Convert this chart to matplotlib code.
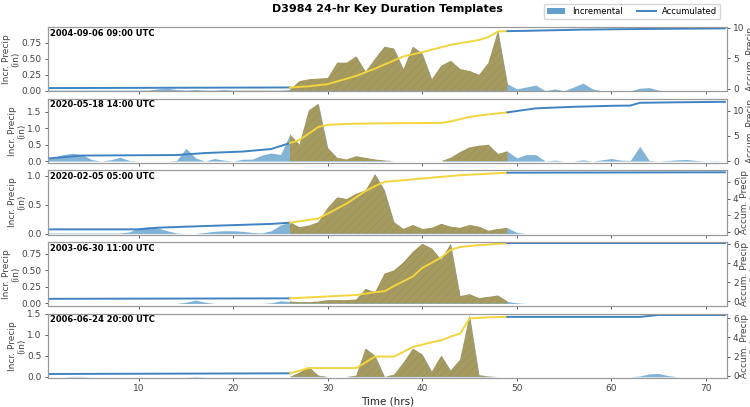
import matplotlib
matplotlib.use("Agg")
import matplotlib.pyplot as plt
import numpy as np
from matplotlib.patches import Patch
from matplotlib.lines import Line2D

# hourly time axis and the 24-hr key window
hours = np.arange(0, 73)
win_start, win_end = 26, 49

dates = ["2004-09-06 09:00 UTC", "2020-05-18 14:00 UTC", "2020-02-05 05:00 UTC",
         "2003-06-30 11:00 UTC", "2006-06-24 20:00 UTC"]

# incremental precip (in), hours 0..72
incr_p1 = [0.01, 0.01, 0.01, 0.01, 0.01, 0.01, 0.01, 0.01, 0.01, 0.01, 0.01, 0.01,
           0.03, 0.04, 0.02, 0.01, 0.02, 0.01, 0.01, 0.02, 0.01, 0.01, 0.01, 0.01, 0.01, 0.01,
           0.02, 0.15, 0.18, 0.19, 0.20, 0.44, 0.44, 0.54, 0.30, 0.50, 0.69, 0.66,
           0.34, 0.69, 0.58, 0.18, 0.39, 0.47, 0.34, 0.31, 0.25, 0.44, 0.94, 0.11,
           0.03, 0.06, 0.09, 0.0, 0.03, 0.0, 0.06, 0.12, 0.03, 0.0, 0.0, 0.0,
           0.0, 0.04, 0.05, 0.01, 0.0, 0.0, 0.0, 0.0, 0.0, 0.0, 0.0]
incr_p2 = [0.02, 0.12, 0.20, 0.24, 0.20, 0.05, 0.0, 0.04, 0.12, 0.02, 0.0, 0.0, 0.0,
           0.0, 0.02, 0.39, 0.10, 0.0, 0.08, 0.03, 0.0, 0.06, 0.06, 0.18, 0.25, 0.20,
           0.82, 0.50, 1.55, 1.75, 0.40, 0.10, 0.05, 0.15, 0.10, 0.05, 0.02, 0.0,
           0.0, 0.0, 0.0, 0.0, 0.0, 0.10, 0.28, 0.42, 0.47, 0.50, 0.22, 0.30,
           0.10, 0.20, 0.20, 0.0, 0.03, 0.0, 0.0, 0.04, 0.0, 0.04, 0.08, 0.03,
           0.02, 0.45, 0.02, 0.0, 0.02, 0.04, 0.05, 0.02, 0.0, 0.01, 0.0]
incr_p3 = [0.01, 0.01, 0.01, 0.01, 0.01, 0.01, 0.01, 0.01, 0.01,
           0.03, 0.10, 0.12, 0.10, 0.05, 0.01, 0.0, 0.0, 0.02, 0.04, 0.05, 0.05,
           0.04, 0.02, 0.01, 0.05, 0.15,
           0.20, 0.11, 0.14, 0.20, 0.45, 0.63, 0.60, 0.69, 0.75, 1.03, 0.75, 0.20,
           0.08, 0.15, 0.08, 0.10, 0.17, 0.12, 0.10, 0.15, 0.12, 0.05, 0.08, 0.10,
           0.02, 0.0, 0.0, 0.0, 0.0, 0.0, 0.0, 0.0, 0.0, 0.0, 0.0, 0.0,
           0.0, 0.0, 0.0, 0.0, 0.0, 0.0, 0.0, 0.0, 0.0, 0.0, 0.0]
incr_p4 = [0.0, 0.0, 0.0, 0.0, 0.0, 0.0, 0.0, 0.0, 0.0, 0.0, 0.0, 0.0, 0.0, 0.0, 0.0,
           0.02, 0.05, 0.02, 0.0, 0.0, 0.0, 0.0, 0.0, 0.0, 0.01, 0.04,
           0.03, 0.02, 0.02, 0.03, 0.05, 0.05, 0.05, 0.06, 0.22, 0.17, 0.45, 0.50,
           0.62, 0.78, 0.90, 0.83, 0.66, 0.90, 0.11, 0.14, 0.08, 0.10, 0.12, 0.03,
           0.01, 0.0, 0.0, 0.0, 0.0, 0.0, 0.0, 0.0, 0.0, 0.0, 0.0, 0.0,
           0.0, 0.0, 0.0, 0.0, 0.0, 0.0, 0.0, 0.0, 0.0, 0.0, 0.0]
incr_p5 = [0.0, 0.0, 0.0, 0.01, 0.01, 0.0, 0.0, 0.0, 0.0, 0.0, 0.0, 0.0, 0.0,
           0.0, 0.0, 0.0, 0.01, 0.0, 0.0, 0.0, 0.0, 0.0, 0.0, 0.0, 0.0, 0.0,
           0.0, 0.10, 0.23, 0.03, 0.0, 0.0, 0.0, 0.03, 0.67, 0.50, 0.0, 0.05,
           0.33, 0.67, 0.53, 0.12, 0.50, 0.15, 0.41, 1.46, 0.04, 0.01, 0.0, 0.0,
           0.0, 0.0, 0.0, 0.0, 0.0, 0.0, 0.0, 0.0, 0.0, 0.0, 0.0, 0.0,
           0.0, 0.02, 0.07, 0.08, 0.03, 0.0, 0.0, 0.0, 0.0, 0.0, 0.0]

# accumulated precip (in), read at breakpoints
acc_h_p1 = [0, 26, 28, 30, 33, 35, 38, 40, 43, 46, 47, 48, 49, 51, 57, 63, 72]
acc_p1 = [0.1, 0.2, 0.4, 0.75, 2.1, 3.3, 5.3, 6.0, 7.2, 8.0, 8.5, 9.4, 9.45, 9.5, 9.7, 9.8, 9.9]
acc_h_p2 = [0, 4, 14, 17, 21, 24, 26, 27, 28, 29, 30, 32, 35, 42, 43, 45, 47, 49,
            52, 56, 60, 62, 63, 67, 72]
acc_p2 = [0.45, 1.1, 1.2, 1.6, 1.9, 2.4, 3.6, 4.2, 5.5, 6.8, 7.2, 7.4, 7.5, 7.6, 7.9,
          8.8, 9.3, 9.7, 10.5, 10.8, 11.0, 11.05, 11.6, 11.7, 11.8]
acc_h_p3 = [0, 10, 12, 17, 24, 26, 29, 32, 34, 35, 36, 39, 44, 49, 72]
acc_p3 = [0.3, 0.3, 0.5, 0.7, 0.95, 1.1, 1.6, 3.4, 4.9, 5.5, 6.0, 6.3, 6.8, 7.1, 7.15]
acc_h_p4 = [0, 26, 33, 35, 36, 37, 39, 40, 42, 43, 44, 46, 49, 72]
acc_p4 = [0.25, 0.3, 0.65, 0.95, 1.05, 1.6, 2.6, 3.5, 4.6, 5.4, 5.7, 5.9, 6.1, 6.1]
acc_h_p5 = [0, 26, 28, 33, 34, 35, 37, 38, 39, 41, 42, 43, 44, 45, 47, 49, 63, 65, 72]
acc_p5 = [0.18, 0.25, 0.8, 0.8, 1.4, 2.0, 2.0, 2.5, 3.0, 3.5, 3.7, 4.1, 4.4, 6.0,
          6.1, 6.15, 6.15, 6.35, 6.35]

incrs = [incr_p1, incr_p2, incr_p3, incr_p4, incr_p5]
accs = [(acc_h_p1, acc_p1), (acc_h_p2, acc_p2), (acc_h_p3, acc_p3),
        (acc_h_p4, acc_p4), (acc_h_p5, acc_p5)]

# axis setup per panel
left_lims = [(-0.01, 1.0), (-0.06, 1.91), (-0.02, 1.10), (-0.045, 0.93), (-0.03, 1.5)]
left_ticks = [[0, 0.25, 0.5, 0.75], [0, 0.5, 1.0, 1.5], [0, 0.5, 1.0],
              [0, 0.25, 0.5, 0.75], [0, 0.5, 1.0, 1.5]]
left_fmt = ['{:.2f}', '{:.1f}', '{:.1f}', '{:.2f}', '{:.1f}']
right_lims = [(-0.45, 10.15), (-0.4, 12.45), (-0.35, 7.4), (-0.55, 6.24), (-0.25, 6.5)]
right_ticks = [[0, 5, 10], [0, 5, 10], [0, 2, 4, 6], [0, 2, 4, 6], [0, 2, 4, 6]]

blue = '#1f77b4'
line_blue = '#3f83c2'
olive = '#a59b60'
gold = '#f2d43c'
spine_c = '#9a9a9a'
txt_c = '#444444'

plt.rcParams['hatch.linewidth'] = 0.3
plt.rcParams['hatch.color'] = '#948a50'

fig, axes = plt.subplots(5, 1, figsize=(7.5, 4.07), dpi=100, sharex=True)
fig.subplots_adjust(left=0.064, right=0.969, top=0.934, bottom=0.071, hspace=0.11)

in_win = (hours >= win_start) & (hours <= win_end)

for i, ax in enumerate(axes):
    incr = np.array(incrs[i])
    # incremental fill, whole period then window overlay
    ax.fill_between(hours, incr, color=blue, alpha=0.55, lw=0)
    ax.fill_between(hours, incr, where=in_win, facecolor=olive, edgecolor='#948a50',
                    hatch='////', lw=0)
    ax.set_xlim(0.4, 72.2)
    ax.set_ylim(*left_lims[i])
    ax.set_yticks(left_ticks[i])
    ax.set_yticklabels([left_fmt[i].format(v) for v in left_ticks[i]])
    ax.set_ylabel('Incr. Precip\n(in)', fontsize=6.5, color=txt_c, labelpad=1,
                  linespacing=1.0)
    ax.text(0.003, 0.97, dates[i], transform=ax.transAxes, fontsize=6,
            fontweight='bold', va='top', ha='left')

    # accumulated line on the twin axis
    ax2 = ax.twinx()
    ah = np.array(accs[i][0])
    av = np.array(accs[i][1])
    pre = ah <= win_start
    win = (ah >= win_start) & (ah <= win_end)
    post = ah >= win_end
    ax2.plot(ah[pre], av[pre], color=line_blue, lw=1.4)
    ax2.plot(ah[win], av[win], color=gold, lw=1.4)
    ax2.plot(ah[post], av[post], color=line_blue, lw=1.4)
    ax2.set_ylim(*right_lims[i])
    ax2.set_yticks(right_ticks[i])
    ax2.set_ylabel('Accum. Precip\n(in)', fontsize=6.5, color=txt_c, labelpad=1,
                   linespacing=1.0)

    for a in (ax, ax2):
        a.tick_params(labelsize=6.5, colors=txt_c, length=2.5, width=0.6, pad=2)
        for s in a.spines.values():
            s.set_color(spine_c)
            s.set_linewidth(0.8)

axes[-1].set_xticks([10, 20, 30, 40, 50, 60, 70])
axes[-1].set_xlabel('Time (hrs)', fontsize=7.5, color='#222222', labelpad=2)

fig.text(0.517, 0.977, 'D3984 24-hr Key Duration Templates', ha='center', va='center',
         fontsize=8, fontweight='bold')

handles = [Patch(facecolor=blue, alpha=0.7, label='Incremental'),
           Line2D([0], [0], color=line_blue, lw=1.4, label='Accumulated')]
fig.legend(handles=handles, loc='upper right', bbox_to_anchor=(0.966, 1.0), ncol=2,
           fontsize=6, frameon=True, edgecolor='#cccccc', handlelength=2.2,
           borderpad=0.35, columnspacing=1.8)

fig.savefig('out.png', dpi=100)
